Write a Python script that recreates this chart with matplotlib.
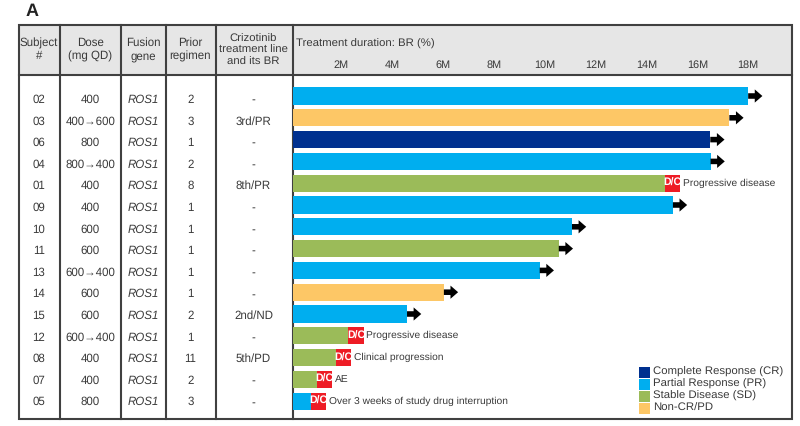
import matplotlib.pyplot as plt
from matplotlib.patches import Rectangle

plt.rcParams['font.family'] = ['Liberation Sans', 'DejaVu Sans']
plt.rcParams['text.hinting'] = 'no_hinting'

# Table data
subjects = ['02', '03', '06', '04', '01', '09', '10', '11', '13', '14', '15', '12', '08', '07', '05']
doses = ['400', '400→600', '800', '800→400', '400', '400', '600', '600', '600→400', '600', '600',
         '600→400', '400', '400', '800']
genes = ['ROS1'] * 15
regimens = ['2', '3', '1', '2', '8', '1', '1', '1', '1', '1', '2', '1', '11', '2', '3']
lines_br = ['-', '3rd/PR', '-', '-', '8th/PR', '-', '-', '-', '-', '-', '2nd/ND', '-', '5th/PD', '-', '-']

# Bars: duration in months, response, and how the treatment ended
durations = [18.0, 17.26, 16.51, 16.52, 14.73, 15.04, 11.07, 10.55, 9.8, 6.03, 4.58, 2.27, 1.79, 1.04, 0.8]
responses = ['PR', 'ND', 'CR', 'PR', 'SD', 'PR', 'PR', 'SD', 'PR', 'ND', 'PR', 'SD', 'SD', 'SD', 'PR']
reasons = [None, None, None, None, 'Progressive disease', None, None, None, None, None, None,
           'Progressive disease', 'Clinical progression', 'AE', 'Over 3 weeks of study drug interruption']
dc_width = 0.6

month_ticks = [2, 4, 6, 8, 10, 12, 14, 16, 18]
month_labels = ['2M', '4M', '6M', '8M', '10M', '12M', '14M', '16M', '18M']

colors = {'CR': '#00308f', 'PR': '#00aeef', 'SD': '#9bbb59', 'ND': '#fdc766'}
legend_labels = ['Complete Response (CR)', 'Partial Response (PR)', 'Stable Disease (SD)', 'Non-CR/PD']
legend_keys = ['CR', 'PR', 'SD', 'ND']

W, H = 800, 426
TXT = '#3a3a3a'
LINE = '#404040'
fig = plt.figure(figsize=(W / 100, H / 100), dpi=100)

# Background axes in pixel coordinates for the table frame and text
bg = fig.add_axes([0, 0, 1, 1])
bg.set_xlim(0, W)
bg.set_ylim(H, 0)
bg.axis('off')
bg.add_patch(Rectangle((18.5, 25), 773.5, 50, fc='#e6e6e6', ec='none'))
bg.add_patch(Rectangle((18.5, 25), 773.5, 394, fc='none', ec=LINE, lw=1.5, zorder=5))
bg.plot([18.5, 792], [75, 75], color=LINE, lw=1.5, zorder=5)
for xv in [60, 121, 165.5, 215.5, 292.5]:
    bg.plot([xv, xv], [25, 419], color=LINE, lw=1.5, zorder=5)

bg.text(26, 11.5, 'A', fontsize=13, fontweight='bold', color='#222222', ha='left', va='center')

headers = [(39, 'Subject\n#'), (90.5, 'Dose\n(mg QD)'), (143, 'Fusion\ngene'), (190.5, 'Prior\nregimen')]
for xv, label in headers:
    bg.text(xv, 49.5, label, fontsize=8.3, color=TXT, ha='center', va='center', linespacing=1.2)
bg.text(253.5, 50.5, 'Crizotinib\ntreatment line\nand its BR', fontsize=8.2, color=TXT,
        ha='center', va='center', linespacing=1.2)
bg.text(296, 43.5, 'Treatment duration: BR (%)', fontsize=8.2, color=TXT, ha='left', va='center')

for i in range(len(subjects)):
    yv = 99.8 + 21.6 * i
    bg.text(39, yv, subjects[i], fontsize=8.3, color=TXT, ha='center', va='center')
    bg.text(90.5, yv, doses[i], fontsize=8.3, color=TXT, ha='center', va='center')
    bg.text(143, yv, genes[i], fontsize=8.3, color=TXT, ha='center', va='center', style='italic')
    bg.text(190.5, yv, regimens[i], fontsize=8.3, color=TXT, ha='center', va='center')
    bg.text(253.5, yv, lines_br[i], fontsize=8.3, color=TXT, ha='center', va='center')

# Swimmer panel, months on x and rows on y
ax = fig.add_axes([292.5 / W, 1 - 419 / H, (792 - 292.5) / W, (419 - 75) / H])
ax.patch.set_alpha(0)
ax.set_xlim((292.5 - 290.6) / 25.42, (792 - 290.6) / 25.42)
ax.set_ylim((419 - 96) / 21.8, (75 - 96) / 21.8)
for s in ax.spines.values():
    s.set_visible(False)
ax.set_yticks([])
ax.xaxis.tick_top()
ax.set_xticks(month_ticks)
ax.set_xticklabels(month_labels, fontsize=7.8, color=TXT)
ax.tick_params(axis='x', length=0, pad=3.2)

rows = list(range(len(subjects)))
bar_h = 0.78
ax.barh(rows, durations, height=bar_h, color=[colors[r] for r in responses], linewidth=0)

for i, dur in enumerate(durations):
    if reasons[i] is None:
        # still on treatment
        ax.annotate('', xy=(dur + 0.56, i), xytext=(dur, i),
                    arrowprops=dict(facecolor='black', edgecolor='none', width=4, headwidth=9.5,
                                    headlength=5.5, shrink=0))
    else:
        ax.barh(i, dc_width, left=dur, height=bar_h, color='#ee1c25', linewidth=0)
        ax.text(dur + dc_width / 2, i, 'D/C', fontsize=7.6, fontweight='bold', color='white',
                ha='center', va='center')
        ax.annotate(reasons[i], xy=(dur + dc_width, i), xytext=(2, 0), textcoords='offset points',
                    fontsize=7.4, color=TXT, ha='left', va='center')

# Legend, placed by hand like the original
for k, (key, label) in enumerate(zip(legend_keys, legend_labels)):
    yv = 372 + 12 * k
    bg.add_patch(Rectangle((639, yv - 5.5), 11, 11.5, fc=colors[key], ec='none', zorder=6))
    bg.text(653, yv, label, fontsize=8.2, color=TXT, ha='left', va='center', zorder=6)

fig.savefig('out.png', dpi=100)
